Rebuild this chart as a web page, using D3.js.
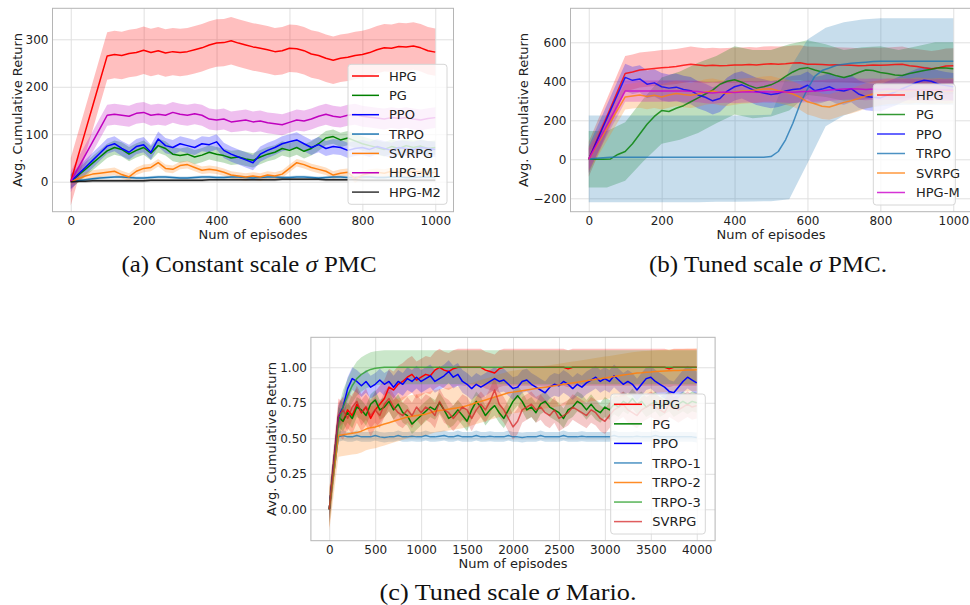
<!DOCTYPE html>
<html>
<head>
<meta charset="utf-8">
<script src="https://cdn.jsdelivr.net/npm/d3@7"></script>
<style>
  body { margin: 0; background: #fff; }
  svg { display: block; font-family: "DejaVu Sans", sans-serif; }
</style>
</head>
<body>
<svg id="fig" width="970" height="605"></svg>
<script>
// ---- episodes (x samples) ----
const epAB = [0,20,40,60,80,100,120,140,160,180,200,220,240,260,280,300,320,340,360,380,400,
  420,440,460,480,500,520,540,560,580,600,620,640,660,680,700,720,740,760,780,800,
  820,840,860,880,900,920,940,960,980,1000];
const bandEpB = [0,50,100,150,200,250,300,350,400,450,500,550,600,650,700,750,800,850,900,950,1000];
const epC = [0,50,100,150,200,250,300,350,400,450,500,550,600,650,700,750,800,850,900,950,
  1000,1050,1100,1150,1200,1250,1300,1350,1400,1450,1500,1550,1600,1650,1700,1750,1800,1850,1900,1950,
  2000,2050,2100,2150,2200,2250,2300,2350,2400,2450,2500,2550,2600,2650,2700,2750,2800,2850,2900,2950,
  3000,3050,3100,3150,3200,3250,3300,3350,3400,3450,3500,3550,3600,3650,3700,3750,3800,3850,3900,3950,4000];

// ---- (a) constant scale PMC ----
const namesA = ["HPG", "PG", "PPO", "TRPO", "SVRPG", "HPG-M1", "HPG-M2"];
const hpgA = [0,53,106,159,212,265, 268,266,270,272, 277,272,276,271,274, 272,274,278,282,288,
  292,293,297,292,288, 284,281,278,274,276, 281,280,276,269,266, 260,256,260,262,266,
  268,272,278,282,281, 285,284,286,282,276, 273];
const pgA = [0,13,26,39,52,65, 72,68,58,66, 72,60,76,70,58, 55,58,52,56,62, 58,55,50,52,48,
  45,52,58,62,70, 66,72,64,70,80, 92,95,88,92,86, 80,76,72,68,74, 70,76,72,75,70, 72];
const ppoA = [0,15,30,45,60,75, 80,70,62,74, 78,62,90,76,72, 80,76,72,80,78, 84,66,58,52,46,
  40,58,66,72,80, 84,88,80,72,78, 70,74,72,66,70, 72,68,74,70,66, 72,70,68,72,70, 68];
const trpoA = [0,2,4,6,8,9, 10,10,9,8, 8,9,10,10,9, 8,8,9,10,10, 9,9,10,10,9, 8,9,10,10,9,
  9,10,10,9,8, 9,10,10,9,9, 10,10,9,9,10, 10,9,9,10,10, 9];
const svrpgA = [0,6,12,16,18,20, 22,15,10,22, 28,30,40,28,26, 34,36,30,24,26, 24,20,14,12,10,
  12,10,14,12,16, 28,40,36,30,26, 22,14,18,20,6, 14,18,20,18,22, 20,18,22,20,18, 20];
const hpgm1A = [0,28,56,84,112,140, 142,140,138,144, 146,140,142,140,146, 142,140,143,140,132,
  130,132,126,128,130, 126,128,124,122,120, 125,130,128,132,138, 142,138,136,140,142,
  138,136,134,132,135, 133,135,132,130,133, 135];
const hpgm2A = [0,1,1,2,2,2, 2,2,2,2, 2,3,3,3,3, 3,3,3,3,4, 4,4,4,4,4, 4,4,4,4,5,
  5,5,5,5,5, 4,4,4,4,4, 3,3,3,3,3, 3,3,3,3,3, 3];
const spreadA = [50, 15, 16, 3, 8, 22, 3];

// ---- (b) tuned scale PMC ----
const namesB = ["HPG", "PG", "PPO", "TRPO", "SVRPG", "HPG-M"];
const hpgB = [0,88,176,264,352,440, 448,458,462,466, 470,472,476,482,488, 484,480,482,480,481,
  483,484,486,484,488, 490,488,490,494,495, 488,487,486,484,485, 484,482,480,481,483,
  482,484,486,488,480, 476,470,465,470,478, 480];
const pgB = [0,0,0,2,25,40, 80,130,180,220, 250,245,262,275,295, 315,335,355,385,400,
  408,395,378,365,372, 382,400,425,448,465, 470,458,448,440,428, 420,430,445,458,455,
  445,440,432,430,440, 448,455,462,470,468, 465];
const ppoB = [0,84,168,252,336,420, 405,412,385,392, 372,365,370,358,352, 330,318,300,312,350,
  372,382,365,348,340, 332,338,350,358,362, 380,352,360,372,355, 350,362,335,322,318,
  315,330,345,362,378, 395,405,400,385,378, 372];
const trpoB = [0,6,8,10,10,10, 10,10,10,10, 10,10,10,10,10, 10,10,10,10,10, 10,10,10,10,10,
  14,40,100,185,285, 360,425,455,468,482, 488,492,495,498,501, 503,503,503,503,503,
  503,503,503,503,503, 503];
const svrpgB = [0,64,128,192,256,320, 325,330,322,328, 320,330,338,332,328, 335,345,350,342,338,
  345,350,352,355,360, 362,352,345,335,318, 295,285,272,268,280, 292,300,312,325,335,
  342,348,350,352,350, 355,352,350,352,350, 352];
const hpgmB = [0,70,140,210,280,350, 350,350,350,350, 350,350,350,350,349, 348,342,340,344,345,
  343,345,346,344,346, 345,347,345,344,346, 348,350,352,355,358, 360,362,360,358,360,
  358,360,358,356,358, 356,355,354,356,355, 355];
const spreadB = [90, null, 70, null, 65, 55];
const pgBLo = [-145,-145,-110,-10,80,100,135,185,230,210,220,250,330,320,300,305,320,310,320,330,335];
const pgBHi = [145,145,190,310,420,450,495,530,580,560,560,590,610,590,560,575,580,560,580,600,600];
const trpoBLo = [-220,-220,-220,-220,-220,-220,-220,-218,-218,-216,-215,-205,-20,170,225,258,272,278,280,280,280];
const trpoBHi = [225,225,225,225,225,225,225,225,225,226,228,460,615,675,703,717,723,723,723,723,723];

// ---- (c) tuned scale Mario ----
const namesC = ["HPG", "PG", "PPO", "TRPO-1", "TRPO-2", "TRPO-3", "SVRPG"];
const hpgC = [0,0.33,0.65,0.62,0.70,0.66,0.74,0.68,0.72,0.64,
  0.70,0.74,0.78,0.86,0.84,0.88,0.90,0.93,0.95,0.91,
  0.93,0.95,0.94,0.98,1.0,0.98,0.97,0.99,1.0,1.0,
  1.0,1.0,1.0,1.0,0.98,0.97,0.96,0.99,1.0,1.0,
  1.0,1.0,1.0,1.0,1.0,1.0,1.0,1.0,1.0,1.0,
  1.0,1.0,0.99,1.0,1.0,1.0,1.0,1.0,1.0,1.0,
  1.0,1.0,1.0,1.0,1.0,1.0,1.0,1.0,1.0,1.0,
  1.0,1.0,1.0,1.0,0.99,1.0,1.0,1.0,1.0,1.0, 1.0];
const pgC = [0,0.33,0.65,0.62,0.68,0.64,0.72,0.70,0.66,0.74,
  0.77,0.70,0.72,0.76,0.70,0.74,0.68,0.66,0.60,0.63,
  0.66,0.69,0.72,0.70,0.75,0.70,0.64,0.66,0.70,0.66,
  0.62,0.70,0.76,0.72,0.66,0.70,0.73,0.68,0.64,0.70,
  0.76,0.80,0.76,0.70,0.72,0.68,0.74,0.76,0.72,0.70,
  0.68,0.64,0.70,0.72,0.76,0.74,0.70,0.74,0.70,0.68,
  0.72,0.70,0.74,0.72,0.76,0.74,0.78,0.74,0.76,0.72,
  0.74,0.76,0.72,0.74,0.76,0.72,0.74,0.76,0.74,0.76, 0.75];
const ppoC = [0,0.33,0.65,0.72,0.85,0.92,0.90,0.87,0.90,0.86,
  0.88,0.91,0.88,0.90,0.86,0.90,0.88,0.92,0.90,0.93,
  0.90,0.92,0.94,0.90,0.92,0.94,0.97,0.93,0.95,0.90,
  0.88,0.85,0.88,0.86,0.88,0.90,0.92,0.90,0.91,0.88,
  0.85,0.86,0.90,0.91,0.88,0.86,0.84,0.82,0.86,0.88,
  0.87,0.90,0.88,0.85,0.88,0.86,0.89,0.91,0.93,0.90,
  0.92,0.90,0.94,0.91,0.88,0.90,0.88,0.84,0.88,0.92,
  0.93,0.90,0.88,0.86,0.83,0.82,0.86,0.90,0.93,0.91, 0.89];
const trpo1C = [0,0.26,0.51,0.52,0.51,0.51,0.52,0.51,0.51,0.51,
  0.52,0.51,0.505,0.51,0.51,0.52,0.51,0.51,0.515,0.51,
  0.51,0.52,0.51,0.51,0.515,0.52,0.51,0.51,0.52,0.51,
  0.51,0.51,0.52,0.51,0.51,0.515,0.51,0.51,0.51,0.52,
  0.51,0.51,0.505,0.51,0.51,0.51,0.52,0.51,0.51,0.51,
  0.51,0.52,0.51,0.51,0.51,0.515,0.51,0.51,0.51,0.51,
  0.51,0.51,0.52,0.51,0.51,0.51,0.51,0.515,0.51,0.51,
  0.51,0.52,0.51,0.51,0.51,0.51,0.51,0.51,0.51,0.51, 0.505];
const trpo2C = [0,0.26,0.52,0.525,0.53,0.535,0.54,0.55,0.565,0.575,
  0.58,0.59,0.60,0.61,0.62,0.63,0.64,0.65,0.655,0.66,
  0.665,0.67,0.68,0.69,0.695,0.70,0.705,0.71,0.715,0.72,
  0.73,0.74,0.75,0.76,0.77,0.78,0.79,0.80,0.81,0.82,
  0.825,0.83,0.835,0.84,0.845,0.85,0.855,0.86,0.865,0.87,
  0.875,0.88,0.885,0.89,0.895,0.90,0.905,0.91,0.915,0.92,
  0.925,0.93,0.935,0.94,0.945,0.95,0.955,0.96,0.962,0.965,
  0.967,0.97,0.972,0.974,0.976,0.977,0.978,0.979,0.98,0.981, 0.982];
const trpo3C = [0,0.30,0.60,0.72,0.80,0.87,0.92,0.95,0.97,0.985,
  0.993,0.997,1,1,1,1,1,1,1,1,
  1,1,1,1,1,1,1,1,1,1, 1,1,1,1,1,1,1,1,1,1,
  1,1,1,1,1,1,1,1,1,1, 1,1,1,1,1,1,1,1,1,1,
  1,1,1,1,1,1,1,1,1,1, 1,1,1,1,1,1,1,1,1,1, 1];
const svrpgC = [0,0.33,0.66,0.70,0.64,0.72,0.76,0.68,0.72,0.66,
  0.70,0.66,0.74,0.78,0.72,0.68,0.66,0.70,0.66,0.72,
  0.68,0.72,0.70,0.66,0.76,0.70,0.68,0.64,0.68,0.72,
  0.70,0.64,0.70,0.74,0.70,0.76,0.84,0.74,0.70,0.64,
  0.58,0.62,0.70,0.72,0.74,0.70,0.72,0.68,0.66,0.70,
  0.64,0.66,0.68,0.72,0.70,0.68,0.66,0.70,0.68,0.64,
  0.62,0.66,0.70,0.72,0.74,0.70,0.68,0.66,0.70,0.72,
  0.74,0.72,0.70,0.68,0.74,0.72,0.70,0.72,0.74,0.72, 0.73];
const spreadC = [0.13, 0.07, 0.08, 0.035, 0.15, 0.12, 0.09];

// ---- ticks ----
const xTicksAB = [0, 200, 400, 600, 800, 1000];
const yTicksA = [0, 100, 200, 300];
const yTicksB = [-200, 0, 200, 400, 600];
const xTicksC = [0, 500, 1000, 1500, 2000, 2500, 3000, 3500, 4000];
const yTicksC = [0, 0.25, 0.5, 0.75, 1.0];

const svg = d3.select("#fig");

function drawPanel(id, p) {
  const x = d3.scaleLinear().domain(p.xDomain).range([p.left, p.right]);
  const y = d3.scaleLinear().domain(p.yDomain).range([p.bottom, p.top]);
  const g = svg.append("g");

  g.append("clipPath").attr("id", "clip-" + id)
    .append("rect")
    .attr("x", p.left).attr("y", p.top)
    .attr("width", p.right - p.left).attr("height", p.bottom - p.top);

  // grid + tick labels
  const xAxis = g.append("g")
    .attr("transform", `translate(0,${p.bottom})`)
    .call(d3.axisBottom(x).tickValues(p.xTicks).tickFormat(d3.format("d"))
      .tickSize(-(p.bottom - p.top)).tickSizeOuter(0).tickPadding(5));
  const yAxis = g.append("g")
    .attr("transform", `translate(${p.left},0)`)
    .call(d3.axisLeft(y).tickValues(p.yTicks).tickFormat(p.yFormat)
      .tickSize(-(p.right - p.left)).tickSizeOuter(0).tickPadding(4));
  [xAxis, yAxis].forEach(a => {
    a.select(".domain").remove();
    a.selectAll(".tick line").attr("stroke", "#e0e0e0").attr("stroke-width", 1);
    a.selectAll(".tick text").attr("fill", "#222").style("font-size", "12px")
      .style("font-family", "DejaVu Sans, sans-serif");
  });

  // bands and lines
  const plot = g.append("g").attr("clip-path", `url(#clip-${id})`);
  p.series.forEach(s => {
    let area;
    if (s.lo) {
      area = d3.area().x((d, i) => x(s.bandX[i])).y0((d, i) => y(s.lo[i])).y1((d, i) => y(s.hi[i]));
      plot.append("path").datum(s.lo).attr("d", area)
        .attr("fill", s.color).attr("fill-opacity", p.bandAlpha);
    } else {
      area = d3.area().x((d, i) => x(p.ep[i])).y0(d => y(d - s.spread)).y1(d => y(d + s.spread));
      plot.append("path").datum(s.mean).attr("d", area)
        .attr("fill", s.color).attr("fill-opacity", p.bandAlpha);
    }
  });
  p.series.forEach(s => {
    const line = d3.line().x((d, i) => x(p.ep[i])).y(d => y(d));
    plot.append("path").datum(s.mean).attr("d", line)
      .attr("fill", "none").attr("stroke", s.color)
      .attr("stroke-opacity", s.alpha).attr("stroke-width", 1.5)
      .attr("stroke-linejoin", "round");
  });

  // frame
  g.append("rect")
    .attr("x", p.left).attr("y", p.top)
    .attr("width", p.right - p.left).attr("height", p.bottom - p.top)
    .attr("fill", "none").attr("stroke", "#b5b5b5").attr("stroke-width", 1);

  // axis labels
  g.append("text")
    .attr("x", (p.left + p.right) / 2).attr("y", p.xLabelY)
    .attr("text-anchor", "middle").attr("fill", "#222").style("font-size", "13px")
    .text("Num of episodes");
  g.append("text")
    .attr("transform", `translate(${p.yLabelX},${(p.top + p.bottom) / 2}) rotate(-90)`)
    .attr("text-anchor", "middle").attr("dy", "0.35em").attr("fill", "#222").style("font-size", "13px")
    .text("Avg. Cumulative Return");

  // legend
  const lg = p.legend;
  g.append("rect")
    .attr("x", lg.x).attr("y", lg.y).attr("width", lg.w).attr("height", lg.h)
    .attr("rx", 3).attr("fill", "#fff").attr("fill-opacity", 0.8)
    .attr("stroke", "#d6d6d6").attr("stroke-width", 1);
  p.series.forEach((s, i) => {
    const yy = lg.y0 + i * lg.step;
    g.append("line")
      .attr("x1", lg.lx1).attr("x2", lg.lx2).attr("y1", yy).attr("y2", yy)
      .attr("stroke", s.color).attr("stroke-opacity", s.alpha).attr("stroke-width", 1.5);
    g.append("text")
      .attr("x", lg.tx).attr("y", yy).attr("dy", "0.36em")
      .attr("fill", "#222").style("font-size", "13px")
      .text(s.name);
  });

  // caption
  const cap = g.append("text")
    .attr("x", p.caption.x).attr("y", p.caption.y)
    .attr("text-anchor", "middle").attr("fill", "#111")
    .attr("textLength", p.caption.w).attr("lengthAdjust", "spacingAndGlyphs")
    .style("font-family", "'Liberation Serif', 'DejaVu Serif', serif")
    .style("font-size", "23px");
  cap.append("tspan").text(p.caption.pre);
  cap.append("tspan").style("font-style", "italic").text("σ");
  cap.append("tspan").text(p.caption.post);
}

const colorsA = ["#ff0000", "#008000", "#0000ff", "#1f77b4", "#ff7f0e", "#bf00bf", "#000000"];
const alphaA = [1, 1, 1, 1, 1, 1, 0.8];
const meansA = [hpgA, pgA, ppoA, trpoA, svrpgA, hpgm1A, hpgm2A];

drawPanel("a", {
  left: 52.5, right: 453.5, top: 8.3, bottom: 211.7,
  xDomain: [-50, 1050], yDomain: [-63.2, 365.3],
  xTicks: xTicksAB, yTicks: yTicksA, yFormat: d3.format("d"),
  ep: epAB, bandAlpha: 0.25,
  xLabelY: 239, yLabelX: 17.7,
  series: namesA.map((n, i) => ({ name: n, color: colorsA[i], alpha: alphaA[i], mean: meansA[i], spread: spreadA[i] })),
  legend: { x: 348, y: 64.3, w: 99, h: 140, y0: 76, step: 19.35, lx1: 352, lx2: 379, tx: 389 },
  caption: { x: 249, y: 272, w: 255, pre: "(a) Constant scale ", post: " PMC" }
});

const colorsB = ["#ff0000", "#008000", "#0000ff", "#1f77b4", "#ff7f0e", "#cc00cc"];
const meansB = [hpgB, pgB, ppoB, trpoB, svrpgB, hpgmB];
const seriesB = namesB.map((n, i) => ({ name: n, color: colorsB[i], alpha: 0.8, mean: meansB[i], spread: spreadB[i] }));
seriesB[1].lo = pgBLo; seriesB[1].hi = pgBHi; seriesB[1].bandX = bandEpB;
seriesB[3].lo = trpoBLo; seriesB[3].hi = trpoBHi; seriesB[3].bandX = bandEpB;

drawPanel("b", {
  left: 570.5, right: 971.5, top: 8.3, bottom: 211.7,
  xDomain: [-50, 1050], yDomain: [-268.7, 774.4],
  xTicks: xTicksAB, yTicks: yTicksB, yFormat: d3.format("d"),
  ep: epAB, bandAlpha: 0.25,
  xLabelY: 238.5, yLabelX: 523.3,
  series: seriesB,
  legend: { x: 873.3, y: 84, w: 82, h: 121, y0: 95, step: 19.5, lx1: 877, lx2: 905, tx: 916 },
  caption: { x: 768, y: 272, w: 238, pre: "(b) Tuned scale ", post: " PMC." }
});

const colorsC = ["#ff0000", "#008000", "#0000ff", "#1f77b4", "#ff7f0e", "#2ca02c", "#d62728"];
const alphaC = [1, 1, 1, 0.8, 0.9, 0.8, 0.75];
const meansC = [hpgC, pgC, ppoC, trpo1C, trpo2C, trpo3C, svrpgC];

drawPanel("c", {
  left: 310.9, right: 715.1, top: 337.3, bottom: 540.7,
  xDomain: [-200, 4200], yDomain: [-0.221, 1.211],
  xTicks: xTicksC, yTicks: yTicksC, yFormat: d3.format(".2f"),
  ep: epC, bandAlpha: 0.25,
  xLabelY: 567.5, yLabelX: 271.7,
  series: namesC.map((n, i) => ({ name: n, color: colorsC[i], alpha: alphaC[i], mean: meansC[i], spread: spreadC[i] })),
  legend: { x: 610.7, y: 394, w: 94.6, h: 140, y0: 404.3, step: 19.55, lx1: 614, lx2: 642, tx: 652.3 },
  caption: { x: 508, y: 600, w: 257, pre: "(c) Tuned scale ", post: " Mario." }
});
</script>
</body>
</html>
